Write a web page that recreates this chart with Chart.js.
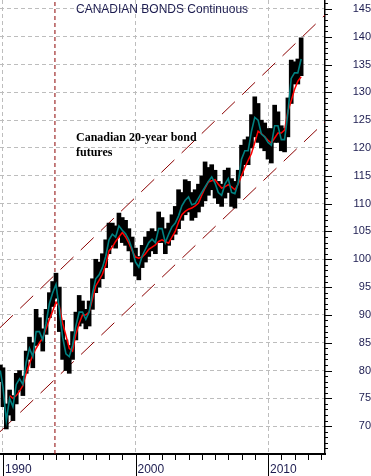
<!DOCTYPE html>
<html>
<head>
<meta charset="utf-8">
<script src="https://cdn.jsdelivr.net/npm/chart.js@4.4.1/dist/chart.umd.min.js"></script>
<style>
  html, body { margin: 0; padding: 0; background: #fff; }
  #chart { display: block; }
</style>
</head>
<body>
<canvas id="chart" width="371" height="476"></canvas>
<script>
// quarterly sample dates (decimal years)
const years = [
  1989.8,
  1990.0, 1990.25, 1990.5, 1990.75,
  1991.0, 1991.25, 1991.5, 1991.75,
  1992.0, 1992.25, 1992.5, 1992.75,
  1993.0, 1993.25, 1993.5, 1993.75,
  1994.0, 1994.25, 1994.5, 1994.75,
  1995.0, 1995.25, 1995.5, 1995.75,
  1996.0, 1996.25, 1996.5, 1996.75,
  1997.0, 1997.25, 1997.5, 1997.75,
  1998.0, 1998.25, 1998.5, 1998.75,
  1999.0, 1999.25, 1999.5, 1999.75,
  2000.0, 2000.25, 2000.5, 2000.75,
  2001.0, 2001.25, 2001.5, 2001.75,
  2002.0, 2002.25, 2002.5, 2002.75,
  2003.0, 2003.25, 2003.5, 2003.75,
  2004.0, 2004.25, 2004.5, 2004.75,
  2005.0, 2005.25, 2005.5, 2005.75,
  2006.0, 2006.25, 2006.5, 2006.75,
  2007.0, 2007.25, 2007.5, 2007.75,
  2008.0, 2008.25, 2008.5, 2008.75,
  2009.0, 2009.25, 2009.5, 2009.75,
  2010.0, 2010.25, 2010.5, 2010.75,
  2011.0, 2011.25, 2011.5, 2011.75,
  2012.0, 2012.25, 2012.5
];

// price range per quarter
const highs = [
  81,
  80.5, 74, 76.5, 75.5,
  79.5, 80, 79, 83.5,
  86, 85, 91, 89.5,
  87.5, 91, 94, 96,
  97.5, 95, 89, 85.5,
  84.5, 87, 90.5, 93.5,
  92.5, 91, 92.5, 96.5,
  100, 99.5, 101, 103.5,
  106.5, 106.5, 106, 108.3,
  107.5, 107, 105.5, 104,
  102, 100.5, 102.5, 104,
  105, 105.5, 105, 108.5,
  107.5, 105.5, 106.5, 108,
  109.5, 112.5, 112, 114.3,
  114, 112, 112.5, 113.5,
  115, 117.5, 116.5, 117,
  116, 114, 113.5, 116,
  116.4, 114.5, 114, 116,
  120.5, 121.5, 122, 126,
  129.2, 128, 125, 124.5,
  123.5, 123.5, 127.7, 126.5,
  124, 123.5, 129, 135.8,
  135.5, 136, 139.8
];
const lows = [
  78,
  73.5, 69.5, 72, 71,
  74, 76.5, 75.5, 79.5,
  82, 80.5, 84.5, 85,
  83.5, 86.5, 89.5, 91.5,
  93, 87, 82, 80,
  79.5, 82, 85.5, 88,
  88.5, 87.5, 88, 91,
  94, 95, 96.5, 98.5,
  101, 102.5, 102, 104,
  103, 102.5, 101.5, 99.5,
  97, 96.3, 98.5, 99.5,
  100.5, 101.5, 101, 103,
  103, 101, 102.5, 103.5,
  104.5, 105.5, 107, 108,
  108.5, 107, 107.5, 108.5,
  109.5, 110.5, 111.5, 112.5,
  111, 110, 109.5, 111,
  112, 109.5, 109.2, 111,
  115, 117, 117, 120,
  122, 121, 120, 119.5,
  118, 117.3, 121, 121,
  119.5, 119.3, 122, 128,
  131.5, 131.5, 133
];
// short moving average (teal)
const shortAvg = [
  80,
  77, 71, 75, 73.5,
  77.5, 78.5, 77.5, 81.5,
  84, 82.5, 87, 87,
  85.5, 88.5, 92, 94,
  95.5, 91, 86, 83,
  82.5, 84.5, 88, 90.5,
  90.5, 89.2, 90.5, 93.8,
  96.5, 97.2, 98.5, 100.5,
  103.5, 104.5, 104, 106,
  105.2, 104.6, 103.5, 101.8,
  99.5, 98.6, 100.6, 101.8,
  103, 103.6, 103, 105.5,
  105.5, 103, 104.5, 105.8,
  106.5, 107.8, 109.6, 110.6,
  111.2, 109.8, 110, 111,
  112, 113, 114, 114.8,
  113.7, 112, 111.5, 113.5,
  114.5, 112, 111.8, 113.7,
  118, 119.5, 119.5, 123,
  125.5, 125, 122.5, 122,
  121, 120.5, 124, 124,
  121.5, 121.5, 126.3, 132.5,
  133.5, 133.5, 136
];
// long moving average (red)
const longAvg = [
  null,
  null, null, 75.5, 75,
  75.5, 76.3, 77.3, 79.5,
  81.2, 82.8, 84, 85,
  85.8, 87.5, 89.2, 90.7,
  92.3, 91.5, 88.5, 86.3,
  84, 83.5, 86.5, 88.5,
  90, 90, 90.5, 92.8,
  95.2, 96.2, 97.3, 99,
  101.5, 102.2, 103.2, 104,
  104.8, 104, 102.9, 101.5,
  100.4, 100.2, 100.4, 101,
  101.8, 102.2, 102.6, 103.2,
  103.5, 103.2, 102.9, 104,
  105, 106.7, 108, 108.6,
  109, 109.2, 109.6, 110.1,
  111.5, 112.8, 113.9, 114.1,
  114.3, 113.5, 112.8, 113,
  113.4, 113, 112.5, 113.5,
  115, 116.5, 117.8, 119,
  121, 123, 122.6, 122,
  121.4, 120.9, 121.8, 122.7,
  122.7, 123.2, 126.6, 128.5,
  130.5, 132, 132.8
];

// trend channel ends and the marker date
const channelYears = [1989.774, 2014.3];
const upperChannel = [87.7, 143.9];
const lowerChannel = [69.0, 124.7];
const markerYear = 1993.92;

const xTicks = [1990, 2000, 2010];
const yTicks = [70, 75, 80, 85, 90, 95, 100, 105, 110, 115, 120, 125, 130, 135, 140, 145];

const xMin = 1989.774, xMax = 2014.3;
const yMin = 65, yMax = 146.6;

const navy = '#1c1c50';
const channelRed = '#8b0000';

const pairs = (xs, ys) => xs.map((x, i) => ({ x: x, y: ys[i] }));

// keep the plot area flush with the canvas edges
function noPadding(s) {
  s.paddingTop = 0;
  s.paddingBottom = 0;
  s.paddingLeft = 0;
  s.paddingRight = 0;
}

// minor/major tick marks on the axes, title and note
const decorations = {
  id: 'decorations',
  afterDraw(chart) {
    const { ctx, chartArea: a, scales: { x, y } } = chart;
    ctx.save();
    ctx.strokeStyle = '#000';
    ctx.lineWidth = 1;
    ctx.beginPath();
    for (let v = 66; v <= 146; v++) {
      const py = Math.round(y.getPixelForValue(v)) + 0.5;
      const len = v % 5 === 0 ? 7 : 3;
      ctx.moveTo(a.right, py);
      ctx.lineTo(a.right + len, py);
    }
    for (let yr = 1990; yr <= 2014; yr++) {
      const px = Math.round(x.getPixelForValue(yr)) + 0.5;
      const len = yr % 10 === 0 ? 22 : 6;
      ctx.moveTo(px, a.bottom);
      ctx.lineTo(px, a.bottom + len);
    }
    ctx.stroke();

    ctx.fillStyle = navy;
    ctx.font = '12px "Liberation Sans", Arial, sans-serif';
    ctx.textBaseline = 'middle';
    ctx.textAlign = 'left';
    ctx.fillText('CANADIAN BONDS Continuous', 76, 10);

    ctx.fillStyle = '#000';
    ctx.font = 'bold 12px "Liberation Serif", "Times New Roman", serif';
    ctx.textBaseline = 'alphabetic';
    ctx.fillText('Canadian 20-year bond', 76, 141);
    ctx.fillText('futures', 76, 156);
    ctx.restore();
  }
};

new Chart(document.getElementById('chart'), {
  type: 'bar',
  data: {
    datasets: [
      {
        type: 'line',
        data: pairs(years, shortAvg),
        borderColor: '#008080',
        borderWidth: 1.6,
        pointRadius: 0,
        order: 0
      },
      {
        type: 'line',
        data: pairs(years, longAvg),
        borderColor: '#ff0000',
        borderWidth: 1.5,
        pointRadius: 0,
        order: 1
      },
      {
        type: 'bar',
        data: years.map((t, i) => ({ x: t, y: [lows[i], highs[i]] })),
        backgroundColor: '#000',
        barThickness: 4,
        order: 2
      },
      {
        type: 'line',
        data: pairs(channelYears, upperChannel),
        borderColor: channelRed,
        borderWidth: 1,
        borderDash: [18, 10],
        pointRadius: 0,
        order: 3
      },
      {
        type: 'line',
        data: pairs(channelYears, lowerChannel),
        borderColor: channelRed,
        borderWidth: 1,
        borderDash: [18, 10],
        pointRadius: 0,
        order: 3
      },
      {
        type: 'line',
        data: [{ x: markerYear, y: yMin }, { x: markerYear, y: yMax }],
        borderColor: channelRed,
        borderWidth: 1,
        borderDash: [4, 3],
        pointRadius: 0,
        order: 3
      }
    ]
  },
  options: {
    responsive: false,
    animation: false,
    events: [],
    layout: { padding: 0 },
    plugins: {
      legend: { display: false },
      tooltip: { enabled: false }
    },
    scales: {
      x: {
        type: 'linear',
        min: xMin,
        max: xMax,
        offset: false,
        afterBuildTicks: s => { s.ticks = xTicks.map(v => ({ value: v })); },
        afterFit: s => { s.height = 22; noPadding(s); },
        grid: { color: '#bdbdbd', drawTicks: false, offset: false },
        border: { color: '#000', width: 2, dash: [4, 3] },
        ticks: {
          align: 'start',
          labelOffset: 2,
          padding: 8,
          autoSkip: false,
          maxRotation: 0,
          color: navy,
          font: { family: '"Liberation Sans", Arial, sans-serif', size: 12 },
          callback: v => String(v)
        }
      },
      y: {
        position: 'right',
        min: yMin,
        max: yMax,
        afterBuildTicks: s => { s.ticks = yTicks.map(v => ({ value: v })); },
        afterFit: s => { s.width = 46; noPadding(s); },
        grid: { color: '#bdbdbd', drawTicks: false },
        border: { color: '#000', width: 1.5, dash: [4, 3] },
        ticks: {
          crossAlign: 'far',
          padding: 21,
          color: navy,
          font: { family: '"Liberation Sans", Arial, sans-serif', size: 11 },
          callback: v => String(v)
        }
      }
    }
  },
  plugins: [decorations]
});
</script>
</body>
</html>
